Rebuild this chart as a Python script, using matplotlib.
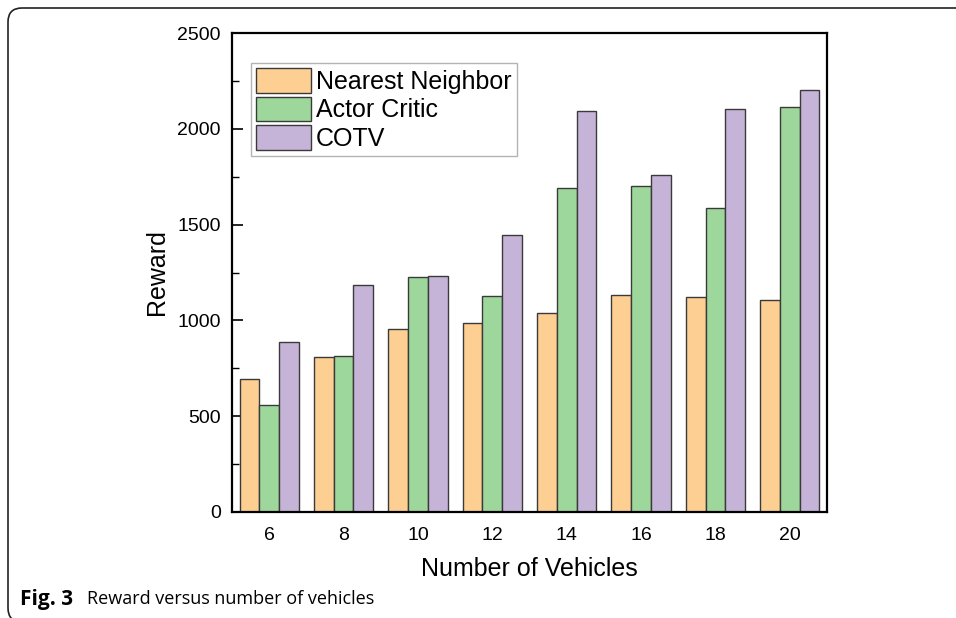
import numpy as np
import matplotlib.pyplot as plt
from matplotlib.patches import FancyBboxPatch
from matplotlib.ticker import MultipleLocator

vehicles = ['6', '8', '10', '12', '14', '16', '18', '20']
nearest_neighbor = [694, 809, 955, 986, 1040, 1134, 1120, 1105]
actor_critic = [558, 814, 1227, 1127, 1689, 1701, 1587, 2115]
cotv = [887, 1185, 1232, 1446, 2093, 1761, 2103, 2201]

series = [
    ('Nearest Neighbor', nearest_neighbor, '#FECF92'),
    ('Actor Critic', actor_critic, '#9ED79B'),
    ('COTV', cotv, '#C6B4D8'),
]

plt.rcParams['font.family'] = ['Liberation Sans', 'DejaVu Sans']

fig = plt.figure(figsize=(9.56, 6.18), dpi=100)
ax = fig.add_axes([232 / 956, 1 - 512 / 618, 595 / 956, 479 / 618])

x = np.arange(len(vehicles))
width = 0.265
for i, (label, vals, color) in enumerate(series):
    ax.bar(x + (i - 1) * width, vals, width, color=color, edgecolor='#3a3a3a',
           linewidth=1.0, label=label, zorder=2)

ax.set_xlim(-0.5, len(vehicles) - 0.5)
ax.set_ylim(0, 2500)
ax.set_xticks(x)
ax.set_xticklabels(vehicles)
ax.yaxis.set_major_locator(MultipleLocator(500))
ax.yaxis.set_minor_locator(MultipleLocator(250))
ax.tick_params(axis='y', which='major', direction='in', length=8, width=1.2, labelsize=14, pad=8)
ax.tick_params(axis='y', which='minor', direction='in', length=5, width=1.0)
ax.tick_params(axis='x', which='major', length=0, labelsize=14, pad=11)
for s in ax.spines.values():
    s.set_linewidth(1.6)

ax.set_xlabel('Number of Vehicles', fontsize=18, labelpad=9)
ax.set_ylabel('Reward', fontsize=18, labelpad=6)

leg = ax.legend(loc='upper left', bbox_to_anchor=(0.032, 0.937), fontsize=18,
                frameon=True, fancybox=False, handlelength=2.2, handleheight=1.15,
                handletextpad=0.2, labelspacing=0.1, borderpad=0.2, borderaxespad=0)
leg.get_frame().set_edgecolor('#a0a0a0')
leg.get_frame().set_linewidth(1.0)

# rounded frame around the figure (left and top edges)
frame = FancyBboxPatch((8, -4), 1000, 618 - 8 + 4, boxstyle='round,pad=0,rounding_size=14',
                       transform=None, facecolor='none', edgecolor='#222222', linewidth=1.2)
fig.patches.append(frame)

fig.text(20 / 956, 1 - 599 / 618, 'Fig. 3', fontsize=15, fontweight='bold',
         family=['Open Sans', 'DejaVu Sans'], va='center', ha='left')
fig.text(87 / 956, 1 - 599 / 618, 'Reward versus number of vehicles', fontsize=13,
         family=['Open Sans', 'DejaVu Sans'], va='center', ha='left')

fig.savefig('out.png', dpi=100)
